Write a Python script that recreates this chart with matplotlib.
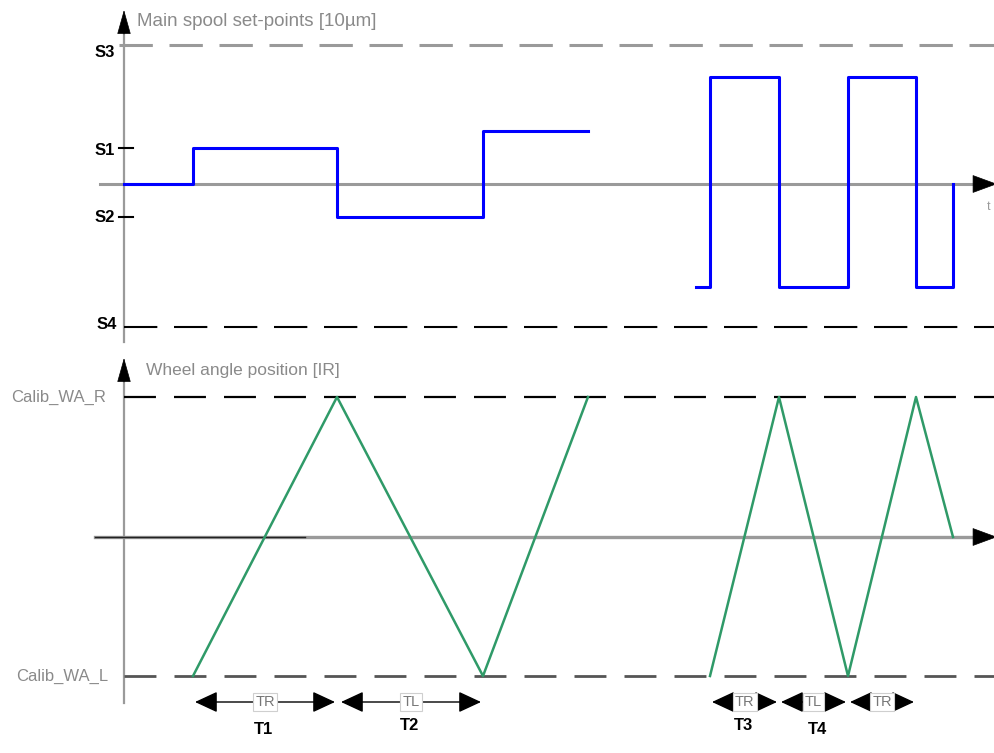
import matplotlib.pyplot as plt

plt.rcParams['font.family'] = ['Liberation Sans', 'DejaVu Sans']
plt.rcParams['lines.scale_dashes'] = False

# layout is kept in figure pixels (x right, y down)
x_axis = 124

# top panel: main spool set-points (y levels in pixels)
y_S3, y_S1, y_zero_top, y_S2, y_S4 = 45, 148, 184, 217, 327
spool1_t = [124, 193, 337, 483, 588]
spool1_y = [184, 148, 217, 131, 131]
spool2_t = [696, 710, 779, 848, 916, 953]
spool2_y = [287, 77, 287, 77, 287, 184]

# bottom panel: wheel angle position
y_wa_r, y_zero_bot, y_wa_l = 397, 537, 676
wheel1_t = [193, 337, 483, 588]
wheel1_y = [676, 397, 676, 397]
wheel2_t = [710, 779, 848, 916, 953]
wheel2_y = [676, 397, 676, 397, 537]

# timing arrows under the wheel plot
spans = [(195, 335, 'TR'), (341, 481, 'TL'), (712, 777, 'TR'), (781, 846, 'TL'), (850, 914, 'TR')]
t_names = ['T1', 'T2', 'T3', 'T4']
t_pos = [(264, 730), (410, 726), (743, 726), (817, 729)]
y_arrow = 702

fig = plt.figure(figsize=(9.94, 7.53), dpi=100)
ax = fig.add_axes([0, 0, 1, 1])
ax.set_xlim(0, 994)
ax.set_ylim(753, 0)
ax.axis('off')

grey = '#9a9a9a'
blue = '#0000ff'
green = '#2f9a68'

head = dict(color='black', lw=0.5, shrinkA=0, shrinkB=0)

# ---- top panel ----
ax.plot([x_axis, x_axis], [30, 342], color=grey, lw=1.6)
ax.annotate('', xy=(x_axis, 10), xytext=(x_axis, 34), annotation_clip=False,
            arrowprops=dict(arrowstyle='-|>,head_length=1.6,head_width=0.45', mutation_scale=10, **head))
ax.plot([100, 978], [y_zero_top, y_zero_top], color=grey, lw=2.2)
ax.annotate('', xy=(997, y_zero_top), xytext=(975, y_zero_top), annotation_clip=False,
            arrowprops=dict(arrowstyle='-|>,head_length=1.5,head_width=0.55', mutation_scale=11, **head))
ax.plot([119, 994], [y_S3, y_S3], color=grey, lw=2.2, dashes=(24, 12))
ax.plot([x_axis, 994], [y_S4, y_S4], color='black', lw=1.5, dashes=(24, 12))
for yy in [y_S1, y_S2]:
    ax.plot([119, 133], [yy, yy], color='black', lw=1.5)
ax.step(spool1_t, spool1_y, where='post', color=blue, lw=2.2)
ax.step(spool2_t, spool2_y, where='post', color=blue, lw=2.2)

ax.text(137, 21, 'Main spool set-points [10µm]', fontsize=13.5, color='#8a8a8a', va='center')
bold = dict(fontsize=12, fontweight='bold', color='black', va='center', ha='right')
ax.text(115, 52, 'S3', **bold)
ax.text(115, 150, 'S1', **bold)
ax.text(115, 217, 'S2', **bold)
ax.text(117, 324, 'S4', **bold)
ax.text(990, 207, 't', fontsize=9, color=grey, va='center', ha='right')

# ---- bottom panel ----
ax.plot([x_axis, x_axis], [378, 703], color=grey, lw=1.6)
ax.annotate('', xy=(x_axis, 358), xytext=(x_axis, 382), annotation_clip=False,
            arrowprops=dict(arrowstyle='-|>,head_length=1.6,head_width=0.45', mutation_scale=10, **head))
ax.plot([95, 978], [y_zero_bot, y_zero_bot], color=grey, lw=2.4)
ax.plot([95, 305], [y_zero_bot, y_zero_bot], color='#222222', lw=1.0)
ax.annotate('', xy=(997, y_zero_bot), xytext=(975, y_zero_bot), annotation_clip=False,
            arrowprops=dict(arrowstyle='-|>,head_length=1.5,head_width=0.55', mutation_scale=11, **head))
ax.plot([x_axis, 994], [y_wa_r, y_wa_r], color='black', lw=1.6, dashes=(23, 13))
ax.plot([x_axis, 994], [y_wa_l, y_wa_l], color='#555555', lw=2.0, dashes=(23, 13))
ax.plot(wheel1_t, wheel1_y, color=green, lw=1.8)
ax.plot(wheel2_t, wheel2_y, color=green, lw=1.8)

ax.text(146, 370, 'Wheel angle position [IR]', fontsize=12.5, color='#8a8a8a', va='center')
ax.text(106, y_wa_r, 'Calib_WA_R', fontsize=12, color='#8a8a8a', va='center', ha='right')
ax.text(108, y_wa_l, 'Calib_WA_L', fontsize=12, color='#8a8a8a', va='center', ha='right')

for x0, x1, lab in spans:
    ax.annotate('', xy=(x1, y_arrow), xytext=(x0, y_arrow),
                arrowprops=dict(arrowstyle='<|-|>,head_length=1.4,head_width=0.65', mutation_scale=10,
                                color='black', lw=1.0, shrinkA=0, shrinkB=0))
    ax.text((x0 + x1) / 2, y_arrow, lab, fontsize=10.5, color='#777777', ha='center', va='center',
            zorder=5, bbox=dict(boxstyle='square,pad=0.15', fc='white', ec='#cfcfcf', lw=0.8))

for name, (tx, ty) in zip(t_names, t_pos):
    ax.text(tx, ty, name, fontsize=12, fontweight='bold', color='black', ha='center', va='center')

fig.savefig('out.png', dpi=100)
